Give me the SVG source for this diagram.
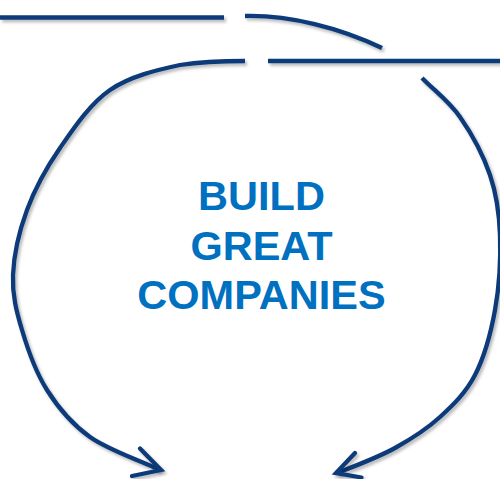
<svg xmlns="http://www.w3.org/2000/svg" width="500" height="479" viewBox="0 0 500 479">
<defs>
<filter id="sh" filterUnits="userSpaceOnUse" x="-20" y="-20" width="540" height="520">
<feDropShadow dx="2" dy="2.5" stdDeviation="1.5" flood-color="#000" flood-opacity="0.28"/>
</filter>
<style>
.c{fill:none;stroke:#0b3a79;stroke-width:4.3;stroke-linejoin:miter;filter:url(#sh)}
.h{fill:none;stroke:#0b3a79;stroke-width:4.3;stroke-linecap:round;stroke-linejoin:miter;filter:url(#sh)}
.t{font-family:"Liberation Sans",Arial,sans-serif;font-weight:bold;font-size:41.5px;fill:#0070c0;text-anchor:middle}
</style>
</defs>
<rect width="500" height="479" fill="#fff"/>
<g id="connectors">
<path class="c" d="M0,17.5 H224"/>
<path class="c" d="M245,16 C290,15 340,28 382,48"/>
<path class="c" d="M268,61 H500"/>
<path class="c" d="M245,61 C223,61 202.5,61.5 180,65 C157.5,69.8 130,76.2 110,90 C90,103.8 73.8,128 60,148 C46.2,168 34.8,188.8 27,210 C19.2,231.2 13.8,255 13,275 C12.2,295 16.3,310.8 22,330 C27.7,349.2 35.7,372.2 47,390 C58.3,407.8 71.2,423.7 90,437 C108.8,450.3 136.7,459 160,470"/>
<path class="c" d="M422,78 C434.7,91 448.7,100.8 460,117 C471.3,133.2 483.3,155.3 490,175 C496.7,194.7 499.2,212.5 500,235 C500.8,257.5 499.2,286.7 495,310 C490.8,333.3 484.2,357.2 475,375 C465.8,392.8 453.3,404.8 440,417 C426.7,429.2 411.7,438.7 395,448 C378.3,457.3 358.3,464.7 337,473"/>
<path class="h" d="M140,448.5 L161,470 L132,476"/>
<path class="h" d="M355,453 L336,473 L361.5,477.5"/>
</g>
<g id="label">
<text class="t" x="261.5" y="209.5">BUILD</text>
<text class="t" x="261.5" y="259.5">GREAT</text>
<text class="t" x="261.5" y="308.5">COMPANIES</text>
</g>
</svg>
